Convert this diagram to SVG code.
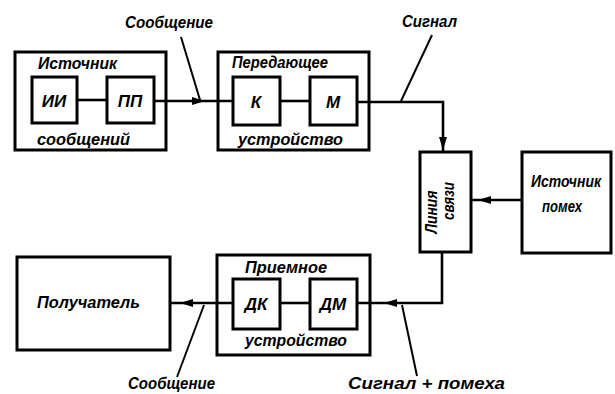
<svg xmlns="http://www.w3.org/2000/svg" width="615" height="394" viewBox="0 0 615 394">
<style>
  .box { fill: #fff; stroke: #000; stroke-width: 3; }
  .frame { fill: none; stroke: #000; stroke-width: 3; }
  .ln { fill: none; stroke: #000; stroke-width: 2.6; }
  .ld { fill: none; stroke: #000; stroke-width: 2; }
  .t { font-family: "Liberation Sans", Arial, sans-serif; font-style: italic; font-weight: bold; font-size: 17px; fill: #000; }
  .b { font-size: 17px; text-anchor: middle; }
  .ah { fill: #000; }
</style>
<rect width="615" height="394" fill="#fff"/>
<g id="connectors">
  <line class="ln" x1="77" y1="100" x2="107" y2="100"/>
  <line class="ln" x1="154" y1="101" x2="233" y2="101"/>
  <polygon class="ah" points="205,101 192,97 192,105"/>
  <line class="ln" x1="280" y1="101" x2="310" y2="101"/>
  <polyline class="ln" points="357,102 443,102 443,152"/>
  <polygon class="ah" points="443,150 439,137 447,137"/>
  <line class="ln" x1="522" y1="200" x2="471" y2="200"/>
  <polygon class="ah" points="478,200 491,196 491,204"/>
  <polyline class="ln" points="442,252 442,303 357,303"/>
  <polygon class="ah" points="384,303 397,299 397,307"/>
  <line class="ln" x1="280" y1="303" x2="310" y2="303"/>
  <line class="ln" x1="233" y1="303" x2="170" y2="303"/>
  <polygon class="ah" points="180,303 193,299 193,307"/>
  <line class="ld" x1="181" y1="37" x2="200" y2="100"/>
  <line class="ld" x1="432" y1="35" x2="401" y2="101"/>
  <line class="ld" x1="402" y1="305" x2="417" y2="376"/>
  <line class="ld" x1="204" y1="305" x2="177" y2="377"/>
</g>
<g id="source">
  <rect class="frame" x="15" y="52" width="151" height="98"/>
  <rect class="box" x="32" y="77" width="45" height="46"/>
  <rect class="box" x="107" y="77" width="47" height="46"/>
  <text class="t b" x="54" y="107">ИИ</text>
  <text class="t b" x="130" y="107">ПП</text>
  <text class="t" x="38" y="69" textLength="79" lengthAdjust="spacingAndGlyphs">Источник</text>
  <text class="t" x="37" y="145" textLength="93" lengthAdjust="spacingAndGlyphs">сообщений</text>
</g>
<g id="transmitter">
  <rect class="frame" x="218" y="52" width="151" height="98"/>
  <rect class="box" x="233" y="77" width="47" height="48"/>
  <rect class="box" x="310" y="77" width="47" height="48"/>
  <text class="t b" x="256" y="108">К</text>
  <text class="t b" x="333" y="108">М</text>
  <text class="t" x="232" y="68" textLength="96" lengthAdjust="spacingAndGlyphs">Передающее</text>
  <text class="t" x="238" y="145" textLength="105" lengthAdjust="spacingAndGlyphs">устройство</text>
</g>
<g id="line">
  <rect class="box" x="420" y="152" width="51" height="100"/>
  <text class="t" transform="translate(437,212) rotate(-90)" text-anchor="middle" textLength="43" lengthAdjust="spacingAndGlyphs" style="font-size:16px">Линия</text>
  <text class="t" transform="translate(454,201) rotate(-90)" text-anchor="middle" textLength="38" lengthAdjust="spacingAndGlyphs" style="font-size:16px">связи</text>
</g>
<g id="noise">
  <rect class="box" x="522" y="152" width="89" height="101"/>
  <text class="t" x="531" y="187" textLength="70" lengthAdjust="spacingAndGlyphs">Источник</text>
  <text class="t" x="542" y="212" textLength="40" lengthAdjust="spacingAndGlyphs">помех</text>
</g>
<g id="receiver">
  <rect class="frame" x="217" y="255" width="153" height="100"/>
  <rect class="box" x="233" y="279" width="47" height="50"/>
  <rect class="box" x="310" y="279" width="47" height="50"/>
  <text class="t b" x="256" y="310">ДК</text>
  <text class="t b" x="333" y="310">ДМ</text>
  <text class="t" x="245" y="273" textLength="82" lengthAdjust="spacingAndGlyphs">Приемное</text>
  <text class="t" x="245" y="346" textLength="102" lengthAdjust="spacingAndGlyphs">устройство</text>
</g>
<g id="recipient">
  <rect class="box" x="17" y="257" width="153" height="93"/>
  <text class="t" x="37" y="308" textLength="103" lengthAdjust="spacingAndGlyphs">Получатель</text>
</g>
<g id="labels">
  <text class="t" x="125" y="28" textLength="88" lengthAdjust="spacingAndGlyphs">Сообщение</text>
  <text class="t" x="402" y="27" textLength="55" lengthAdjust="spacingAndGlyphs">Сигнал</text>
  <text class="t" x="128" y="389" textLength="87" lengthAdjust="spacingAndGlyphs">Сообщение</text>
  <text class="t" x="348" y="389" textLength="157" lengthAdjust="spacingAndGlyphs">Сигнал + помеха</text>
</g>
</svg>
